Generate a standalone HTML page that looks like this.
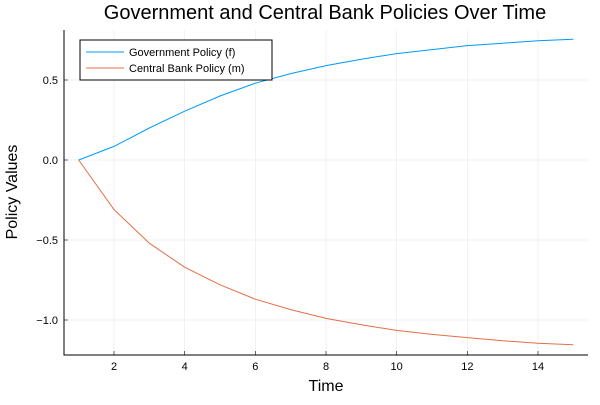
<!DOCTYPE html>
<html><head><meta charset="utf-8"><style>
body{margin:0;background:#fff;}
svg text{font-family:"Liberation Sans",sans-serif;}
</style></head><body>
<svg id="chart" width="600" height="400" xmlns="http://www.w3.org/2000/svg">
<text x="325" y="19" text-anchor="middle" font-size="20" fill="#000">Government and Central Bank Policies Over Time</text>
<g id="grid"></g>
<g id="axes"></g>
<g id="series"></g>
<text x="326" y="391" text-anchor="middle" font-size="16">Time</text>
<text transform="translate(17,192) rotate(-90)" text-anchor="middle" font-size="16">Policy Values</text>
<g>
<rect x="80" y="40" width="192" height="40" fill="#fff" stroke="#000" stroke-width="1"/>
<line x1="86" y1="52" x2="124" y2="52" stroke="#009af9" stroke-width="1"/>
<text x="129" y="56" font-size="11">Government Policy (f)</text>
<line x1="86" y1="68" x2="124" y2="68" stroke="#e26f46" stroke-width="1"/>
<text x="129" y="72" font-size="11">Central Bank Policy (m)</text>
</g>
</svg>
<script>
const times=[1,2,3,4,5,6,7,8,9,10,11,12,13,14,15];
const govPolicy=[0,0.085,0.2,0.305,0.4,0.48,0.54,0.59,0.63,0.665,0.69,0.715,0.73,0.745,0.755];
const cbPolicy=[0,-0.31,-0.52,-0.67,-0.78,-0.87,-0.935,-0.99,-1.03,-1.065,-1.09,-1.11,-1.13,-1.145,-1.155];
const xTicks=[2,4,6,8,10,12,14];
const yTicks=[0.5,0,-0.5,-1];
const yTickLabels=["0.5","0.0","−0.5","−1.0"];
const L=64,R=588,T=30,B=355;
function xs(v){return 114+(v-2)*(538-114)/12;}
function ys(v){return 160-v*160;}
const NS="http://www.w3.org/2000/svg";
const grid=document.getElementById('grid'),axes=document.getElementById('axes'),ser=document.getElementById('series');
function mk(tag,attrs,parent){const e=document.createElementNS(NS,tag);for(const k in attrs)e.setAttribute(k,attrs[k]);parent.appendChild(e);return e;}
xTicks.forEach(t=>{
 const g=mk('line',{x1:xs(t),x2:xs(t),y1:T,y2:B,stroke:'#000','stroke-opacity':0.1,'stroke-width':0.5},grid);
 
 
 const tk=mk('line',{x1:xs(t),x2:xs(t),y1:B,y2:B-4,stroke:'#000','stroke-width':0.6},axes);
 
 
 const tx=mk('text',{x:xs(t),y:B+15,'text-anchor':'middle','font-size':11},axes);
 tx.textContent=t;
 
 
});
yTicks.forEach((t,i)=>{
 const g=mk('line',{x1:L,x2:R,y1:ys(t),y2:ys(t),stroke:'#000','stroke-opacity':0.1,'stroke-width':0.5},grid);
 
 
 const tk=mk('line',{x1:L,x2:L+4,y1:ys(t),y2:ys(t),stroke:'#000','stroke-width':0.6},axes);
 
 
 const tx=mk('text',{x:L-6,y:ys(t)+4,'text-anchor':'end','font-size':11},axes);
 tx.textContent=yTickLabels[i];
 
 
});
const ax=mk('path',{d:`M${L},${T}V${B}H${R}`,fill:'none',stroke:'#000','stroke-width':1},axes);


const p1=mk('polyline',{points:times.map((t,i)=>xs(t)+','+ys(govPolicy[i])).join(' '),fill:'none',stroke:'#009af9','stroke-width':1},ser);


const p2=mk('polyline',{points:times.map((t,i)=>xs(t)+','+ys(cbPolicy[i])).join(' '),fill:'none',stroke:'#e26f46','stroke-width':1},ser);


</script>
</body></html>
